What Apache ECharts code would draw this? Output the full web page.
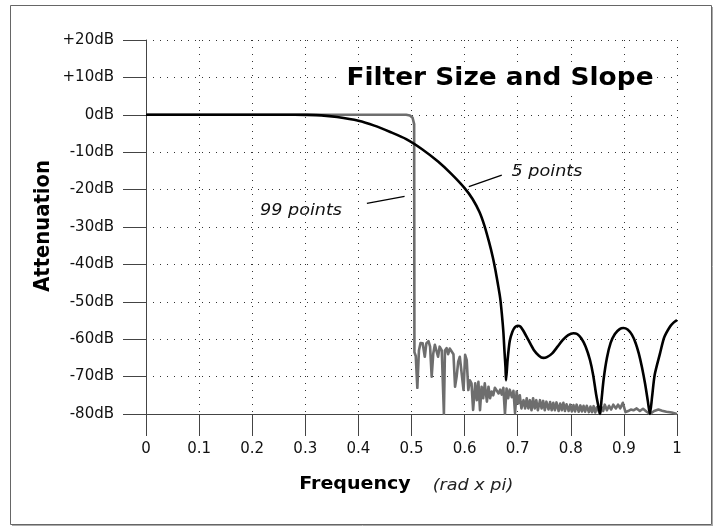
<!DOCTYPE html>
<html>
<head>
<meta charset="utf-8">
<script src="https://cdn.jsdelivr.net/npm/echarts@6/dist/echarts.min.js"></script>
<style>
  html, body { margin: 0; padding: 0; background: #fff; }
  #chart { width: 721px; height: 527px; }
</style>
</head>
<body>
<div id="chart"></div>
<script>
// axis ticks
var freqMin = 0, freqMax = 1, freqStep = 0.1;
var dbMin = -80, dbMax = 20, dbStep = 10;

// 5 point filter response [frequency, dB]
var fivePoints = [
  [0, 0], [0.1, 0], [0.2, 0], [0.28, 0], [0.3, -0.02], [0.33, -0.15], [0.36, -0.6],
  [0.4, -1.6], [0.43, -2.9], [0.46, -4.6], [0.49, -6.5], [0.52, -9.2], [0.55, -12.5],
  [0.575, -15.8], [0.6, -19.6], [0.615, -22.5], [0.628, -26], [0.637, -29.5], [0.646, -34],
  [0.653, -38], [0.658, -41.5], [0.663, -45.5], [0.667, -49], [0.670, -53], [0.673, -58],
  [0.675, -63], [0.677, -67.5], [0.678, -71], [0.681, -65.5], [0.685, -60.5],
  [0.69, -58], [0.695, -56.8], [0.70, -56.4], [0.705, -56.6], [0.71, -57.6], [0.72, -60.2],
  [0.73, -62.8], [0.74, -64.4], [0.748, -65], [0.755, -64.8], [0.765, -63.8], [0.775, -62],
  [0.785, -60.2], [0.795, -58.9], [0.805, -58.4], [0.812, -58.6], [0.82, -59.8], [0.828, -62],
  [0.836, -65.5], [0.842, -69.5], [0.848, -75], [0.852, -78], [0.855, -80], [0.858, -76],
  [0.862, -70.5], [0.868, -65], [0.875, -61], [0.883, -58.6], [0.892, -57.3], [0.899, -57],
  [0.907, -57.4], [0.915, -58.8], [0.922, -61], [0.928, -63.8], [0.934, -67.5], [0.94, -72],
  [0.945, -76.5], [0.949, -80], [0.953, -75.5], [0.958, -69.5], [0.968, -63.8], [0.976, -59.5],
  [0.987, -56.6], [0.994, -55.5], [1.0, -54.9]
];

// 99 point filter response [frequency, dB]
var ninetyNinePoints = [
  [0, 0], [0.49, 0], [0.497, -0.2], [0.502, -0.8], [0.505, -2.5], [0.5055, -63.5],
  [0.508, -64.5], [0.511, -73], [0.514, -63], [0.517, -61], [0.521, -61.1], [0.525, -64.7],
  [0.528, -61.1], [0.532, -60.5], [0.535, -62], [0.538, -70], [0.541, -63.8], [0.544, -61.5],
  [0.547, -62], [0.550, -64.7], [0.553, -62], [0.557, -63], [0.561, -80], [0.563, -63],
  [0.566, -62.4], [0.569, -64], [0.572, -62.5], [0.575, -63], [0.579, -64], [0.582, -72.7],
  [0.585, -70], [0.588, -66], [0.591, -64.7], [0.594, -65], [0.598, -73.6], [0.601, -64.2],
  [0.604, -65.6], [0.607, -73.6], [0.610, -71], [0.613, -71.8], [0.616, -78.9], [0.620, -71.8],
  [0.623, -76.3], [0.626, -71.4], [0.629, -79], [0.632, -72.7], [0.635, -75.8], [0.638, -71.8],
  [0.642, -76.7], [0.645, -72.7], [0.648, -75.8], [0.651, -74], [0.654, -75], [0.657, -73],
  [0.660, -73.5], [0.664, -74.5], [0.667, -73.5], [0.670, -74.8], [0.673, -73], [0.676, -80],
  [0.679, -73.2], [0.682, -75.8], [0.685, -73.5], [0.689, -75.5], [0.692, -73.8], [0.695, -79.8],
  [0.698, -74], [0.701, -77.2], [0.704, -75], [0.707, -78.5], [0.711, -76.3], [0.714, -78.5],
  [0.717, -75.8], [0.720, -78.5], [0.723, -76.3], [0.726, -79], [0.729, -75.8], [0.732, -78.5],
  [0.735, -76.3], [0.738, -79], [0.742, -76.3], [0.745, -78.5], [0.748, -76.5], [0.751, -79],
  [0.754, -76.7], [0.758, -78.8], [0.761, -76.8], [0.764, -79], [0.767, -77], [0.770, -79],
  [0.773, -76.9], [0.777, -79.2], [0.780, -77.2], [0.783, -79], [0.786, -77], [0.789, -79.2],
  [0.792, -77.4], [0.796, -79.2], [0.799, -77.5], [0.802, -79.3], [0.805, -77.6], [0.808, -79.3],
  [0.811, -77.5], [0.815, -79.4], [0.818, -77.7], [0.821, -79.3], [0.824, -77.8], [0.827, -79.4],
  [0.830, -77.8], [0.834, -79.5], [0.837, -78], [0.840, -79.5], [0.843, -77.9], [0.846, -79.6],
  [0.849, -78.2], [0.855, -80], [0.858, -78.2], [0.861, -79.2], [0.864, -77.5], [0.868, -79],
  [0.872, -77.8], [0.876, -78.8], [0.880, -77.5], [0.885, -78.5], [0.889, -77.5], [0.893, -78.5],
  [0.898, -77], [0.903, -79.5], [0.908, -79.2], [0.913, -78.8], [0.918, -79], [0.924, -78.5],
  [0.930, -79.2], [0.936, -78.6], [0.943, -79.4], [0.949, -80], [0.957, -79.2], [0.965, -78.8],
  [0.972, -79.1], [0.98, -79.4], [0.99, -79.6], [1.0, -80]
];

// leader lines for the two notes, in data units
var fiveLeader = [[0.608, -19.2], [0.670, -16.1]];
var ninetyNineLeader = [[0.416, -23.7], [0.487, -21.8]];

var labelFont = "DejaVu Sans";

var chart = echarts.init(document.getElementById("chart"), null, { renderer: "canvas" });

function leaderLine(pts) {
  return {
    silent: true,
    symbol: ["none", "none"],
    label: { show: false },
    lineStyle: { color: "#000", width: 1.3, type: "solid" },
    data: [[{ coord: pts[0] }, { coord: pts[1] }]]
  };
}

var option = {
  animation: false,
  backgroundColor: "#fff",
  grid: { left: 146, right: 44, top: 40, bottom: 113 },
  xAxis: {
    type: "value",
    min: freqMin,
    max: freqMax,
    interval: freqStep,
    axisLine: { onZero: false, lineStyle: { color: "#444", width: 1 } },
    axisTick: { length: 22, lineStyle: { color: "#444", width: 1 } },
    axisLabel: {
      margin: 28,
      fontFamily: labelFont,
      fontSize: 15,
      color: "#111",
      formatter: function (v) {
        if (v === 0 || v === 1) return String(v);
        return v.toFixed(1);
      }
    },
    splitLine: { show: true, lineStyle: { color: "#333", type: [1, 6], width: 1 } }
  },
  yAxis: {
    type: "value",
    min: dbMin,
    max: dbMax,
    interval: dbStep,
    axisLine: { show: true, onZero: false, lineStyle: { color: "#444", width: 1 } },
    axisTick: { show: true, length: 23, lineStyle: { color: "#444", width: 1 } },
    axisLabel: {
      margin: 32,
      fontFamily: labelFont,
      fontSize: 15,
      color: "#111",
      formatter: function (v) {
        return (v > 0 ? "+" : "") + v + "dB";
      }
    },
    splitLine: { show: true, lineStyle: { color: "#333", type: [1, 6], width: 1 } }
  },
  series: [
    {
      name: "99 points",
      type: "line",
      data: ninetyNinePoints,
      showSymbol: false,
      lineStyle: { color: "#6e6e6e", width: 2.6, join: "round" },
      markLine: leaderLine(ninetyNineLeader)
    },
    {
      name: "5 points",
      type: "line",
      data: fivePoints,
      showSymbol: false,
      smooth: 0.25,
      lineStyle: { color: "#000", width: 2.6, join: "round" },
      markLine: leaderLine(fiveLeader)
    }
  ],
  graphic: [
    // outer frame with a soft shadow
    { type: "rect", z: 100, silent: true,
      shape: { x: 10.5, y: 5.5, width: 701, height: 519 },
      style: { fill: "none", stroke: "#666", lineWidth: 1 } },
    { type: "line", z: 100, silent: true,
      shape: { x1: 12, y1: 525.5, x2: 713, y2: 525.5 },
      style: { stroke: "#aaa", lineWidth: 1 } },
    { type: "line", z: 100, silent: true,
      shape: { x1: 712.5, y1: 7, x2: 712.5, y2: 526 },
      style: { stroke: "#aaa", lineWidth: 1 } },
    // title with white box over the grid
    { type: "rect", z: 100, silent: true,
      shape: { x: 342, y: 65, width: 315, height: 26 },
      style: { fill: "#fff" } },
    { type: "text", z: 101, silent: true, x: 500, y: 78, scaleX: 1.1, scaleY: 1.05,
      style: { text: "Filter Size and Slope", font: 'bold 24px "DejaVu Sans"',
        fill: "#000", textAlign: "center", textVerticalAlign: "middle" } },
    // axis names
    { type: "text", z: 101, silent: true, x: 43, y: 226, rotation: Math.PI / 2,
      scaleX: 1.03, scaleY: 1.15,
      style: { text: "Attenuation", font: 'bold 19px "DejaVu Sans"',
        fill: "#000", textAlign: "center", textVerticalAlign: "middle" } },
    { type: "text", z: 101, silent: true, x: 355, y: 485, scaleX: 1.12,
      style: { text: "Frequency", font: 'bold 17px "DejaVu Sans"',
        fill: "#000", textAlign: "center", textVerticalAlign: "middle" } },
    { type: "text", z: 101, silent: true, x: 473, y: 486, scaleX: 1.1,
      style: { text: "(rad x pi)", font: 'italic 16px "DejaVu Sans"',
        fill: "#222", textAlign: "center", textVerticalAlign: "middle" } },
    // notes
    { type: "text", z: 101, silent: true, x: 547, y: 172, scaleX: 1.1,
      style: { text: "5 points", font: 'italic 16px "DejaVu Sans"',
        fill: "#111", textAlign: "center", textVerticalAlign: "middle" } },
    { type: "text", z: 101, silent: true, x: 301, y: 211, scaleX: 1.1,
      style: { text: "99 points", font: 'italic 16px "DejaVu Sans"',
        fill: "#111", textAlign: "center", textVerticalAlign: "middle" } }
  ]
};

chart.setOption(option);
</script>
</body>
</html>
